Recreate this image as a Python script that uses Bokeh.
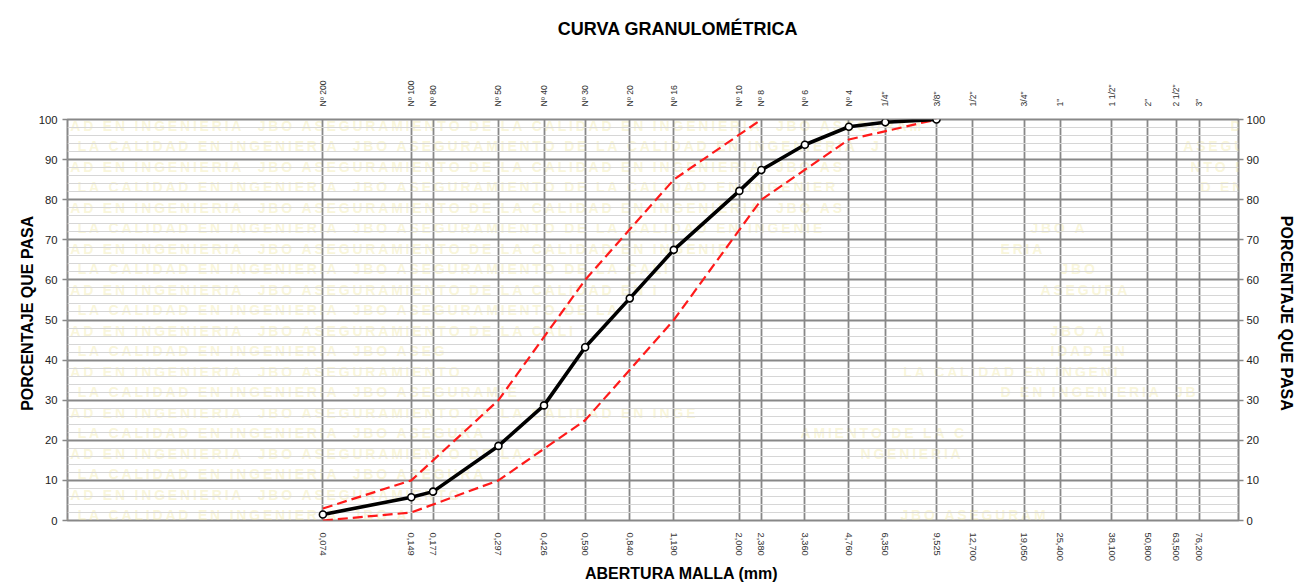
import math
from bokeh.plotting import figure
from bokeh.models import Range1d, FixedTicker, LogAxis, LinearAxis, Label
from bokeh.embed import file_html
from bokeh.resources import INLINE

# ---------------- data ----------------
sieve_mm = [0.074, 0.149, 0.177, 0.297, 0.426, 0.590, 0.840, 1.190, 2.000, 2.380,
            3.360, 4.760, 6.350, 9.525, 12.700, 19.050, 25.400, 38.100, 50.800,
            63.500, 76.200]
sieve_names = ["Nº 200", "Nº 100", "Nº 80", "Nº 50", "Nº 40", "Nº 30", "Nº 20",
               "Nº 16", "Nº 10", "Nº 8", "Nº 6", "Nº 4", '1/4"', '3/8"', '1/2"',
               '3/4"', '1"', '1 1/2"', '2"', '2 1/2"', '3"']
sieve_labels = ["0,074", "0,149", "0,177", "0,297", "0,426", "0,590", "0,840",
                "1,190", "2,000", "2,380", "3,360", "4,760", "6,350", "9,525",
                "12,700", "19,050", "25,400", "38,100", "50,800", "63,500", "76,200"]

sample_mm = [0.074, 0.149, 0.177, 0.297, 0.426, 0.590, 0.840, 1.190, 2.000, 2.380,
             3.360, 4.760, 6.350, 9.525]
passing = [1.5, 5.8, 7.2, 18.6, 28.7, 43.2, 55.4, 67.5, 82.2, 87.4, 93.7, 98.2, 99.3, 100.0]

upper_mm = [0.074, 0.149, 0.297, 0.590, 1.190, 2.380]
upper = [3, 10, 30, 60, 85, 100]
lower_mm = [0.074, 0.149, 0.297, 0.590, 1.190, 2.380, 4.760, 9.525]
lower = [0, 2, 10, 25, 50, 80, 95, 100]

y_ticks = list(range(0, 101, 10))
y_minor = list(range(0, 101, 2))

TITLE = "CURVA GRANULOMÉTRICA"
X_TITLE = "ABERTURA MALLA (mm)"
Y_TITLE = "PORCENTAJE QUE PASA"

# ---------------- layout ----------------
W, H = 1306, 586
FL, FR, FT, FB = 67, 68, 119, 66
X_LO, X_HI = 0.0098, 104.0
FONT = "Liberation Sans"
GRID = "#888888"
NB = "\u00a0"

p = figure(width=W, height=H, x_axis_type="log",
           x_range=Range1d(X_LO, X_HI), y_range=Range1d(0, 100),
           output_backend="svg", toolbar_location=None,
           min_border_left=FL, min_border_right=FR,
           min_border_top=FT, min_border_bottom=FB)
p.title.visible = False
p.background_fill_color = "white"
p.border_fill_color = "white"
p.outline_line_color = GRID
p.outline_line_width = 2


def xdata(px):
    lo, hi = math.log10(X_LO), math.log10(X_HI)
    return 10 ** (lo + (px - FL) / (W - FL - FR) * (hi - lo))


def ydata(py):
    return 100 - (py - FT) / (H - FT - FB) * 100


# watermark (faint background text inside the chart area)
phrase = "JBO ASEGURAMIENTO DE LA CALIDAD EN INGENIERIA  "
long_txt = phrase * 6
start_a = long_txt.index("O DE LA")
start_b = long_txt.index("CALIDAD")
rows = [(13, 1050), (25, 1030), (13, 980), (25, 960), (13, 980), (25, 950),
        (13, 840), (25, 770), (13, 760), (25, 720), (13, 660), (25, 520),
        (13, 520), (25, 600), (13, 800), (25, 560), (13, 620), (25, 560),
        (13, 540), (25, 480), (13, 560)]
frags = [(0, 1230, 1306, 28), (1, 1180, 1306, 3), (2, 1190, 1306, 14), (3, 1200, 1306, 30),
         (5, 1030, 1100, 0), (6, 1000, 1080, 41), (7, 1060, 1110, 0), (8, 1040, 1140, 4),
         (10, 1050, 1120, 0), (11, 1050, 1150, 27), (12, 900, 1170, 20), (13, 1000, 1250, 30),
         (15, 800, 1000, 10), (16, 860, 1000, 36), (19, 900, 1060, 0), (20, 880, 1050, 31)]
CHW = 12.6


def wm_label(txt, x0, yref):
    t = "\u2009".join(txt)
    p.add_layout(Label(x=xdata(x0), y=ydata(yref), text=t, level="image",
                       text_font=FONT, text_font_style="bold", text_font_size="14px",
                       text_color="#efe7a0", text_alpha=0.4,
                       text_align="left", text_baseline="middle"))


for k, (x0, x1) in enumerate(rows):
    yref = 125 + 20.5 * k
    s = start_b if k % 2 == 0 else start_a
    n = int((x1 - x0) / CHW)
    wm_label(long_txt[s:s + n], x0, yref)
for k, x0, x1, off in frags:
    yref = 125 + 20.5 * k
    n = int((x1 - x0) / CHW)
    wm_label(long_txt[off:off + n], x0, yref)

# grids
xticker = FixedTicker(ticks=sieve_mm, minor_ticks=[])
yticker = FixedTicker(ticks=y_ticks, minor_ticks=y_minor)
p.xgrid.ticker = xticker
p.xgrid.grid_line_color = GRID
p.xgrid.grid_line_width = 1.8
p.ygrid.ticker = yticker
p.ygrid.grid_line_color = GRID
p.ygrid.grid_line_width = 1.8
p.ygrid.minor_grid_line_color = "#d6d6d6"
p.ygrid.minor_grid_line_width = 1


def style_label(ax, size="16px"):
    ax.axis_label_text_font = FONT
    ax.axis_label_text_font_style = "bold"
    ax.axis_label_text_font_size = size
    ax.axis_label_text_color = "black"


# bottom axis
xb = p.xaxis[0]
xb.ticker = xticker
xb.major_label_overrides = {v: l for v, l in zip(sieve_mm, sieve_labels)}
xb.major_label_orientation = "vertical"
xb.major_label_standoff = 12
xb.major_tick_out = 0
xb.major_tick_in = 0
xb.minor_tick_line_color = None
xb.axis_line_color = None
xb.major_label_text_font = FONT
xb.major_label_text_font_size = "9.3px"
xb.major_label_text_color = "#333333"
xb.axis_label = NB * 13 + X_TITLE
xb.axis_label_standoff = 1
style_label(xb)

# top axis (sieve names) carrying the chart title
xt = LogAxis(ticker=xticker)
xt.major_label_overrides = {v: l for v, l in zip(sieve_mm, sieve_names)}
xt.major_label_orientation = "vertical"
xt.major_label_standoff = 13
xt.major_tick_out = 0
xt.major_tick_in = 0
xt.minor_tick_line_color = None
xt.axis_line_color = None
xt.major_label_text_font = FONT
xt.major_label_text_font_size = "8.6px"
xt.major_label_text_color = "#333333"
xt.axis_label = NB * 10 + TITLE
xt.axis_label_standoff = 38
style_label(xt, "18px")
p.add_layout(xt, "above")

# y axes
yl = p.yaxis[0]
yl.ticker = yticker
yr = LinearAxis(ticker=yticker)
p.add_layout(yr, "right")
for ax, so in ((yl, 5), (yr, 3)):
    ax.major_tick_out = 5
    ax.major_tick_in = 0
    ax.major_tick_line_color = GRID
    ax.major_tick_line_width = 1.5
    ax.minor_tick_line_color = None
    ax.axis_line_color = None
    ax.major_label_standoff = so
    ax.major_label_text_font = FONT
    ax.major_label_text_font_size = "11.3px"
    ax.major_label_text_color = "#222222"
    style_label(ax)
yl.axis_label = NB * 3 + Y_TITLE
yl.axis_label_standoff = 0
yr.axis_label = Y_TITLE + NB * 3
yr.axis_label_standoff = 10

# series
p.line(lower_mm, lower, line_color="#ff1a1a", line_width=2.2, line_dash="10 5")
p.line(upper_mm, upper, line_color="#ff1a1a", line_width=2.2, line_dash="10 5")
p.line(sample_mm, passing, line_color="black", line_width=3.6)
p.scatter(sample_mm, passing, size=7, fill_color="white", line_color="black", line_width=1.6)

open("out.html", "w").write(file_html(p, INLINE))
